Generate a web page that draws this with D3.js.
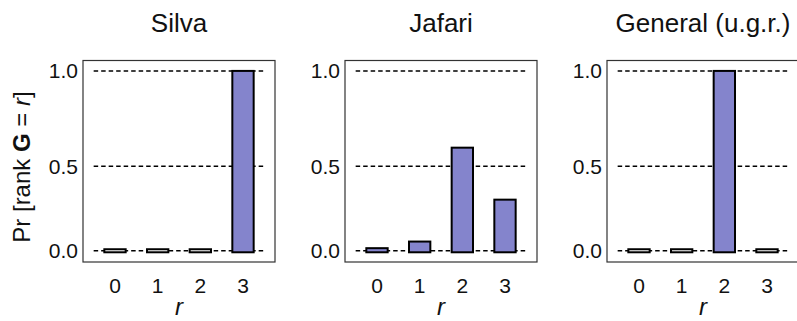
<!DOCTYPE html>
<html lang="en">
<head>
  <meta charset="UTF-8">
  <title>rank distribution</title>
  <script src="https://cdnjs.cloudflare.com/ajax/libs/d3/7.8.5/d3.min.js"></script>
  <style>
    body { margin: 0; background: #fff; }
    text { font-family: "Liberation Sans", "DejaVu Sans", sans-serif; fill: #111; }
    .grid line { stroke: #000; stroke-width: 1.5; stroke-dasharray: 4.5,3; }
    .frame { fill: none; stroke: #333; stroke-width: 1.2; }
    .bar { stroke: #000; stroke-width: 2; }
  </style>
</head>
<body>
  <svg width="797" height="321"></svg>
  <script>
    // data
    var panelTitles = ["Silva", "Jafari", "General (u.g.r.)"]
    var ranks = [0, 1, 2, 3]
    var silva = [0, 0, 0, 1]
    var jafari = [0.02, 0.065, 0.60, 0.315]
    var general = [0, 0, 1, 0]
    var yTicks = [0, 0.5, 1]

    var series = [silva, jafari, general]

    var svg = d3.select("svg")
    var panelW = 192, plotTop = 60.5, plotBottom = 262
    var plotH = plotBottom - plotTop
    var panelLeft = [83, 345, 607]

    // x: ranks with some padding, y: slightly non linear like the original
    var x = d3.scaleLinear().domain([-0.75, 3.75]).range([0, panelW])
    var y = d3.scalePow().exponent(1.09).domain([-0.079, 1.053]).range([plotH, 0])
    var barW = x(0.5) - x(0)
    var minH = 0.012, base = -0.013

    series.forEach(function (vals, i) {
      var g = svg.append("g").attr("transform", "translate(" + panelLeft[i] + "," + plotTop + ")")

      g.append("g").attr("class", "grid")
        .selectAll("line").data(yTicks).join("line")
        .attr("x1", x(-0.5)).attr("x2", x(3.5))
        .attr("y1", d => y(d)).attr("y2", d => y(d))

      g.selectAll("rect.bar").data(vals).join("rect")
        .attr("class", "bar")
        .attr("x", (d, j) => x(ranks[j]) - barW / 2)
        .attr("width", barW)
        .attr("y", d => y(Math.max(d, minH)))
        .attr("height", d => y(base) - y(Math.max(d, minH)))
        .attr("fill", d => d > 0 ? "#8484cc" : "#fff")

      g.append("rect").attr("class", "frame")
        .attr("x", 0).attr("y", 0)
        .attr("width", panelW).attr("height", plotH)

      g.selectAll("text.ytick").data(yTicks).join("text")
        .attr("class", "ytick")
        .attr("x", -5).attr("y", d => y(d))
        .attr("dy", "0.36em")
        .attr("text-anchor", "end")
        .style("font-size", "21px")
        .text(d => d3.format(".1f")(d))

      g.selectAll("text.xtick").data(ranks).join("text")
        .attr("class", "xtick")
        .attr("x", d => x(d)).attr("y", plotH + 23)
        .attr("dy", "0.36em")
        .attr("text-anchor", "middle")
        .style("font-size", "21px")
        .text(d => d)

      g.append("text")
        .attr("x", x(1.5)).attr("y", plotH + 53)
        .attr("text-anchor", "middle")
        .style("font-size", "24px")
        .style("font-style", "italic")
        .text("r")

      g.append("text")
        .attr("x", panelW / 2).attr("y", -28.5)
        .attr("text-anchor", "middle")
        .style("font-size", "26px")
        .text(panelTitles[i])
    })

    // y label
    var yl = svg.append("text")
      .attr("transform", "translate(30,167) rotate(-90)")
      .attr("text-anchor", "middle")
      .style("font-size", "24px")
    yl.append("tspan").text("Pr [rank ")
    yl.append("tspan").style("font-weight", "bold").text("G")
    yl.append("tspan").text(" = ")
    yl.append("tspan").style("font-style", "italic").text("r")
    yl.append("tspan").text("]")
  </script>
</body>
</html>
